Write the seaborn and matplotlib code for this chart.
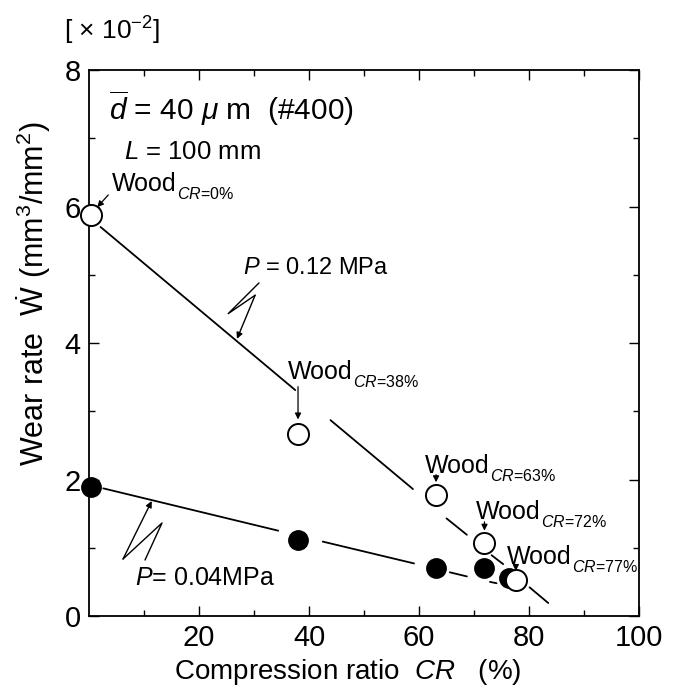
import matplotlib
matplotlib.use("Agg")
import matplotlib.pyplot as plt
import seaborn as sns
import pandas as pd

# ---- data ----
cr_open = [0.3, 38.0, 63.1, 71.9, 77.6]          # P = 0.12 MPa (open circles)
w_open = [5.88, 2.66, 1.78, 1.07, 0.53]
cr_filled = [0.3, 38.0, 63.0, 71.8, 76.4]        # P = 0.04 MPa (filled circles)
w_filled = [1.89, 1.11, 0.70, 0.70, 0.55]
wood_labels = ["0", "38", "63", "72", "77"]

# fitted trend lines, drawn in broken segments (start/end)
hi_x0 = [2.1, 43.9, 65.0, 73.2, 80.1]
hi_y0 = [5.70, 2.87, 1.43, 0.89, 0.42]
hi_x1 = [37.5, 58.9, 68.7, 75.3, 83.5]
hi_y1 = [3.31, 1.86, 1.19, 0.76, 0.19]
lo_x0 = [2.6, 42.5, 65.6, 72.9]
lo_y0 = [1.87, 1.09, 0.64, 0.50]
lo_x1 = [34.4, 59.1, 68.7, 74.1]
lo_y1 = [1.25, 0.77, 0.58, 0.48]

x_ticks = [20, 40, 60, 80, 100]
y_ticks = [0, 2, 4, 6, 8]

sns.set_theme(style="ticks")
plt.rcParams["font.family"] = ["Liberation Sans", "DejaVu Sans"]
plt.rcParams["mathtext.fontset"] = "custom"
plt.rcParams["mathtext.rm"] = "Liberation Sans"
plt.rcParams["mathtext.it"] = "Liberation Sans:italic"
plt.rcParams["mathtext.bf"] = "Liberation Sans:bold"

fig = plt.figure(figsize=(6.78, 6.94), dpi=100)
ax = fig.add_axes([0.1313, 0.1124, 0.8112, 0.7867])

# trend line segments
for xs, ys, xe, ye in [(hi_x0, hi_y0, hi_x1, hi_y1), (lo_x0, lo_y0, lo_x1, lo_y1)]:
    for i in range(len(xs)):
        seg = pd.DataFrame({"x": [xs[i], xe[i]], "y": [ys[i], ye[i]]})
        sns.lineplot(data=seg, x="x", y="y", ax=ax, color="black", lw=1.3,
                     estimator=None, sort=False)

df_f = pd.DataFrame({"CR": cr_filled, "W": w_filled})
df_o = pd.DataFrame({"CR": cr_open, "W": w_open})
sns.scatterplot(data=df_f, x="CR", y="W", ax=ax, s=190, color="black",
                edgecolor="black", linewidth=1.2, zorder=4, clip_on=False)
sns.scatterplot(data=df_o, x="CR", y="W", ax=ax, s=230, color="white",
                edgecolor="black", linewidth=1.4, zorder=5, clip_on=False)

ax.set_xlim(0, 100)
ax.set_ylim(0, 8)
ax.set_xticks(x_ticks)
ax.set_xticklabels([str(t) for t in x_ticks])
ax.set_xticks(range(10, 100, 20), minor=True)
ax.set_yticks(y_ticks)
ax.set_yticklabels([str(t) for t in y_ticks])
ax.set_yticks([1, 3, 5, 7], minor=True)
ax.tick_params(which="both", direction="in", top=True, right=True,
               color="black", width=1.0)
ax.tick_params(which="major", length=7, labelsize=21, pad=6, labelcolor="black")
ax.tick_params(which="minor", length=4)
for sp in ax.spines.values():
    sp.set_linewidth(1.3)
    sp.set_color("black")

ax.set_xlabel(r"Compression ratio  $CR$   (%)", fontsize=20, color="black")
ax.xaxis.set_label_coords(0.47, -0.075)
ax.set_ylabel(r"Wear rate  $\dot{\mathrm{W}}$ (mm$^3$/mm$^2$)", fontsize=22,
              color="black")
ax.yaxis.set_label_coords(-0.066, 0.59)

fig.text(0.165, 0.955, r"[ $\times$ 10$^{-2}$]", fontsize=19, ha="center",
         va="center", color="black")

ax.text(3.6, 7.44, r"$\overline{d}$ = 40 $\mu$ m  (#400)", fontsize=21.5,
        va="center", ha="left", color="black")
ax.text(6.4, 6.8, r"$L$ = 100 mm", fontsize=18.5, va="center", ha="left",
        color="black")
ax.text(28.0, 5.10, r"$P$ = 0.12 MPa", fontsize=17, va="center", ha="left",
        color="black")
ax.text(8.4, 0.56, r"$P$= 0.04MPa", fontsize=18, va="center", ha="left",
        color="black")

# Wood labels with arrows
label_pos = [(4.2, 6.33), (36.2, 3.57), (61.1, 2.20), (70.4, 1.52), (76.0, 0.86)]
arrow_from = [(3.5, 6.17), (38.0, 3.36), (63.1, 2.07), (71.9, 1.38), (77.6, 0.75)]
arrow_to = [(1.5, 5.99), (38.0, 2.88), (63.1, 1.96), (71.9, 1.25), (77.6, 0.66)]
for lab, (tx, ty), fr, to in zip(wood_labels, label_pos, arrow_from, arrow_to):
    t = ax.text(tx, ty, "Wood", fontsize=18, va="center", ha="left",
                color="black", zorder=6)
    ax.annotate(r"$CR$=" + lab + "%", xy=(1.0, 0.08), xycoords=t,
                fontsize=11.5, va="center", ha="left", color="black", zorder=6)
    ax.annotate("", xy=to, xytext=fr,
                arrowprops=dict(arrowstyle="-|>", lw=0.9, color="black",
                                mutation_scale=9, shrinkA=0, shrinkB=0),
                zorder=6)

# lightning-style leaders
zig_hi = [(30.9, 4.88), (25.3, 4.43), (30.2, 4.70), (26.9, 4.06)]
zig_lo = [(10.18, 0.82), (13.27, 1.363), (6.18, 0.835), (11.4, 1.685)]
for zig in (zig_hi, zig_lo):
    xs = [p[0] for p in zig[:-1]]
    ys = [p[1] for p in zig[:-1]]
    ax.plot(xs, ys, color="black", lw=1.0)
    ax.annotate("", xy=zig[-1], xytext=zig[-2],
                arrowprops=dict(arrowstyle="-|>", lw=1.0, color="black",
                                mutation_scale=9, shrinkA=0, shrinkB=0))

fig.savefig("out.png", dpi=100, facecolor="white")
